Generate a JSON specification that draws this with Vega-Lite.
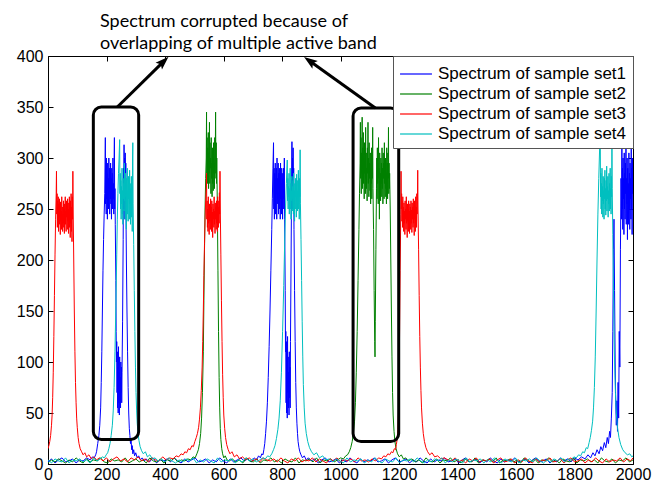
{
"$schema": "https://vega.github.io/schema/vega-lite/v6.json",
"width": 585, "height": 408,
"autosize": {"type": "none"},
"padding": {"left": 48, "top": 56, "right": 33, "bottom": 22},
"background": "white",
"title": {"text": ["Spectrum corrupted because of", "overlapping of multiple active band"], "anchor": "start", "frame": "group", "font": "Lato", "fontSize": 18, "fontWeight": "normal", "color": "black", "dx": 52, "lineHeight": 22, "offset": -5},
"config": {
  "view": {"stroke": "black", "strokeWidth": 1},
  "legend": {"orient": "top-right", "offset": 0, "title": null, "symbolType": "M-1.45,0H1.45", "symbolSize": 484, "symbolOffset": 5, "symbolStrokeWidth": 1.2, "labelFont": "Liberation Sans", "labelFontSize": 17, "labelColor": "black", "fillColor": "white", "strokeColor": "#555555", "padding": 6, "rowPadding": 0, "labelOffset": 10, "labelLimit": 400}
},
"datasets": {
"set1": [{"x":0,"y":2},{"x":12,"y":5},{"x":24,"y":1},{"x":36,"y":4},{"x":48,"y":6},{"x":60,"y":2},{"x":72,"y":3},{"x":84,"y":5},{"x":96,"y":1},{"x":108,"y":4},{"x":120,"y":3},{"x":132,"y":6},{"x":144,"y":4},{"x":152,"y":7},{"x":158,"y":6},{"x":163,"y":9},{"x":166,"y":12},{"x":170,"y":20},{"x":174,"y":28},{"x":177,"y":38},{"x":180,"y":55},{"x":182,"y":80},{"x":184,"y":110},{"x":186,"y":150},{"x":188,"y":190},{"x":190,"y":220},{"x":192,"y":245},{"x":194,"y":265},{"x":196,"y":320},{"x":197,"y":255},{"x":198,"y":290},{"x":199,"y":245},{"x":200,"y":300},{"x":201,"y":260},{"x":202,"y":285},{"x":203,"y":240},{"x":204,"y":295},{"x":205,"y":265},{"x":206,"y":280},{"x":207,"y":250},{"x":208,"y":300},{"x":209,"y":270},{"x":210,"y":290},{"x":211,"y":245},{"x":212,"y":285},{"x":213,"y":260},{"x":214,"y":295},{"x":215,"y":255},{"x":216,"y":280},{"x":217,"y":240},{"x":218,"y":290},{"x":219,"y":265},{"x":220,"y":285},{"x":221,"y":250},{"x":222,"y":300},{"x":223,"y":260},{"x":224,"y":275},{"x":225,"y":245},{"x":226,"y":295},{"x":227,"y":320},{"x":228,"y":250},{"x":229,"y":270},{"x":230,"y":235},{"x":232,"y":180},{"x":233,"y":130},{"x":234,"y":100},{"x":235,"y":120},{"x":236,"y":70},{"x":237,"y":110},{"x":238,"y":55},{"x":239,"y":95},{"x":240,"y":50},{"x":241,"y":115},{"x":242,"y":60},{"x":243,"y":90},{"x":244,"y":48},{"x":245,"y":105},{"x":246,"y":65},{"x":247,"y":85},{"x":248,"y":55},{"x":249,"y":100},{"x":250,"y":70},{"x":251,"y":95},{"x":252,"y":60},{"x":253,"y":90},{"x":255,"y":140},{"x":257,"y":220},{"x":258,"y":290},{"x":259,"y":250},{"x":260,"y":313},{"x":261,"y":270},{"x":262,"y":300},{"x":263,"y":240},{"x":264,"y":305},{"x":265,"y":260},{"x":266,"y":295},{"x":267,"y":230},{"x":268,"y":200},{"x":270,"y":150},{"x":272,"y":110},{"x":274,"y":75},{"x":276,"y":50},{"x":278,"y":35},{"x":280,"y":28},{"x":282,"y":20},{"x":284,"y":24},{"x":286,"y":14},{"x":288,"y":18},{"x":290,"y":10},{"x":293,"y":14},{"x":296,"y":8},{"x":300,"y":11},{"x":305,"y":6},{"x":310,"y":8},{"x":316,"y":4},{"x":322,"y":6},{"x":330,"y":3},{"x":335,"y":5},{"x":347,"y":2},{"x":359,"y":6},{"x":371,"y":1},{"x":383,"y":4},{"x":395,"y":3},{"x":407,"y":5},{"x":419,"y":2},{"x":431,"y":6},{"x":443,"y":3},{"x":455,"y":1},{"x":467,"y":5},{"x":479,"y":2},{"x":491,"y":4},{"x":503,"y":6},{"x":515,"y":2},{"x":527,"y":3},{"x":539,"y":5},{"x":551,"y":1},{"x":563,"y":4},{"x":575,"y":2},{"x":587,"y":6},{"x":599,"y":3},{"x":611,"y":1},{"x":623,"y":5},{"x":635,"y":2},{"x":647,"y":4},{"x":659,"y":6},{"x":671,"y":3},{"x":683,"y":5},{"x":695,"y":2},{"x":705,"y":6},{"x":713,"y":4},{"x":720,"y":8},{"x":726,"y":6},{"x":731,"y":10},{"x":735,"y":9},{"x":738,"y":14},{"x":741,"y":20},{"x":744,"y":30},{"x":747,"y":42},{"x":750,"y":60},{"x":753,"y":85},{"x":756,"y":115},{"x":759,"y":150},{"x":762,"y":190},{"x":765,"y":230},{"x":767,"y":260},{"x":769,"y":290},{"x":771,"y":315},{"x":772,"y":250},{"x":773,"y":290},{"x":774,"y":240},{"x":775,"y":285},{"x":776,"y":260},{"x":777,"y":295},{"x":778,"y":245},{"x":779,"y":280},{"x":780,"y":265},{"x":781,"y":290},{"x":782,"y":240},{"x":783,"y":300},{"x":784,"y":255},{"x":785,"y":280},{"x":786,"y":260},{"x":787,"y":295},{"x":788,"y":245},{"x":789,"y":285},{"x":790,"y":270},{"x":791,"y":290},{"x":792,"y":250},{"x":793,"y":280},{"x":794,"y":240},{"x":795,"y":295},{"x":796,"y":260},{"x":797,"y":275},{"x":798,"y":245},{"x":799,"y":290},{"x":800,"y":255},{"x":801,"y":285},{"x":802,"y":240},{"x":803,"y":280},{"x":804,"y":260},{"x":805,"y":290},{"x":806,"y":250},{"x":807,"y":275},{"x":808,"y":300},{"x":809,"y":240},{"x":811,"y":170},{"x":812,"y":110},{"x":813,"y":130},{"x":814,"y":60},{"x":815,"y":120},{"x":816,"y":50},{"x":817,"y":100},{"x":818,"y":45},{"x":819,"y":125},{"x":820,"y":70},{"x":821,"y":105},{"x":822,"y":55},{"x":823,"y":90},{"x":824,"y":48},{"x":825,"y":110},{"x":826,"y":65},{"x":827,"y":95},{"x":828,"y":55},{"x":829,"y":120},{"x":831,"y":200},{"x":833,"y":280},{"x":834,"y":316},{"x":835,"y":260},{"x":836,"y":300},{"x":837,"y":250},{"x":838,"y":310},{"x":839,"y":270},{"x":840,"y":290},{"x":841,"y":230},{"x":843,"y":170},{"x":845,"y":120},{"x":847,"y":80},{"x":849,"y":55},{"x":851,"y":40},{"x":853,"y":30},{"x":855,"y":22},{"x":858,"y":16},{"x":861,"y":12},{"x":865,"y":9},{"x":870,"y":6},{"x":876,"y":8},{"x":883,"y":4},{"x":890,"y":6},{"x":900,"y":3},{"x":912,"y":5},{"x":924,"y":1},{"x":936,"y":4},{"x":948,"y":6},{"x":960,"y":2},{"x":972,"y":3},{"x":984,"y":5},{"x":996,"y":1},{"x":1008,"y":4},{"x":1020,"y":2},{"x":1032,"y":6},{"x":1044,"y":3},{"x":1056,"y":1},{"x":1068,"y":5},{"x":1080,"y":2},{"x":1092,"y":4},{"x":1104,"y":3},{"x":1116,"y":6},{"x":1128,"y":2},{"x":1140,"y":3},{"x":1152,"y":5},{"x":1164,"y":1},{"x":1176,"y":4},{"x":1188,"y":6},{"x":1200,"y":2},{"x":1212,"y":3},{"x":1224,"y":5},{"x":1236,"y":1},{"x":1248,"y":4},{"x":1260,"y":2},{"x":1272,"y":6},{"x":1284,"y":3},{"x":1296,"y":1},{"x":1308,"y":5},{"x":1320,"y":2},{"x":1332,"y":4},{"x":1344,"y":3},{"x":1356,"y":6},{"x":1368,"y":2},{"x":1380,"y":3},{"x":1392,"y":5},{"x":1404,"y":1},{"x":1416,"y":4},{"x":1428,"y":6},{"x":1440,"y":2},{"x":1452,"y":3},{"x":1464,"y":5},{"x":1476,"y":1},{"x":1488,"y":4},{"x":1500,"y":2},{"x":1512,"y":6},{"x":1524,"y":3},{"x":1536,"y":1},{"x":1548,"y":5},{"x":1560,"y":2},{"x":1572,"y":4},{"x":1584,"y":3},{"x":1596,"y":6},{"x":1608,"y":2},{"x":1620,"y":3},{"x":1632,"y":5},{"x":1644,"y":1},{"x":1656,"y":4},{"x":1668,"y":6},{"x":1680,"y":2},{"x":1692,"y":3},{"x":1704,"y":5},{"x":1716,"y":1},{"x":1728,"y":4},{"x":1740,"y":2},{"x":1752,"y":6},{"x":1764,"y":3},{"x":1776,"y":5},{"x":1788,"y":2},{"x":1800,"y":6},{"x":1812,"y":4},{"x":1824,"y":7},{"x":1836,"y":5},{"x":1846,"y":9},{"x":1855,"y":6},{"x":1863,"y":11},{"x":1870,"y":8},{"x":1877,"y":14},{"x":1884,"y":10},{"x":1890,"y":17},{"x":1896,"y":13},{"x":1902,"y":21},{"x":1907,"y":16},{"x":1912,"y":26},{"x":1916,"y":20},{"x":1920,"y":32},{"x":1923,"y":26},{"x":1926,"y":45},{"x":1929,"y":70},{"x":1931,"y":130},{"x":1933,"y":210},{"x":1935,"y":240},{"x":1937,"y":170},{"x":1939,"y":100},{"x":1941,"y":60},{"x":1943,"y":38},{"x":1945,"y":62},{"x":1947,"y":32},{"x":1949,"y":80},{"x":1951,"y":45},{"x":1953,"y":130},{"x":1955,"y":95},{"x":1957,"y":210},{"x":1959,"y":280},{"x":1961,"y":240},{"x":1962,"y":310},{"x":1963,"y":250},{"x":1964,"y":290},{"x":1965,"y":230},{"x":1966,"y":300},{"x":1967,"y":260},{"x":1968,"y":280},{"x":1969,"y":225},{"x":1970,"y":305},{"x":1971,"y":250},{"x":1972,"y":285},{"x":1973,"y":240},{"x":1974,"y":295},{"x":1975,"y":265},{"x":1976,"y":310},{"x":1977,"y":235},{"x":1978,"y":280},{"x":1979,"y":255},{"x":1980,"y":300},{"x":1981,"y":220},{"x":1982,"y":290},{"x":1983,"y":260},{"x":1984,"y":275},{"x":1985,"y":235},{"x":1986,"y":305},{"x":1987,"y":250},{"x":1988,"y":285},{"x":1989,"y":230},{"x":1990,"y":295},{"x":1991,"y":260},{"x":1992,"y":280},{"x":1993,"y":240},{"x":1994,"y":310},{"x":1995,"y":250},{"x":1996,"y":290},{"x":1997,"y":225},{"x":1998,"y":300},{"x":1999,"y":265},{"x":2000,"y":285}],
"set2": [{"x":0,"y":1},{"x":12,"y":4},{"x":24,"y":2},{"x":36,"y":5},{"x":48,"y":3},{"x":60,"y":1},{"x":72,"y":4},{"x":84,"y":2},{"x":96,"y":6},{"x":108,"y":3},{"x":120,"y":1},{"x":132,"y":5},{"x":144,"y":2},{"x":156,"y":4},{"x":168,"y":3},{"x":180,"y":6},{"x":192,"y":2},{"x":204,"y":1},{"x":216,"y":5},{"x":228,"y":3},{"x":240,"y":4},{"x":252,"y":2},{"x":264,"y":6},{"x":276,"y":1},{"x":288,"y":3},{"x":300,"y":5},{"x":312,"y":2},{"x":324,"y":4},{"x":336,"y":1},{"x":348,"y":6},{"x":360,"y":3},{"x":372,"y":2},{"x":384,"y":5},{"x":396,"y":1},{"x":408,"y":4},{"x":420,"y":3},{"x":432,"y":6},{"x":444,"y":2},{"x":456,"y":4},{"x":468,"y":3},{"x":478,"y":5},{"x":488,"y":4},{"x":496,"y":7},{"x":503,"y":6},{"x":509,"y":10},{"x":514,"y":14},{"x":518,"y":20},{"x":522,"y":30},{"x":525,"y":45},{"x":528,"y":70},{"x":531,"y":110},{"x":533,"y":160},{"x":535,"y":210},{"x":537,"y":250},{"x":539,"y":280},{"x":541,"y":300},{"x":542,"y":345},{"x":543,"y":285},{"x":544,"y":320},{"x":545,"y":275},{"x":546,"y":310},{"x":547,"y":290},{"x":548,"y":325},{"x":549,"y":270},{"x":550,"y":305},{"x":551,"y":285},{"x":552,"y":335},{"x":553,"y":275},{"x":554,"y":315},{"x":555,"y":290},{"x":556,"y":300},{"x":557,"y":265},{"x":558,"y":320},{"x":559,"y":280},{"x":560,"y":295},{"x":561,"y":262},{"x":562,"y":310},{"x":563,"y":275},{"x":564,"y":300},{"x":565,"y":268},{"x":566,"y":315},{"x":567,"y":285},{"x":568,"y":295},{"x":569,"y":270},{"x":570,"y":320},{"x":571,"y":280},{"x":572,"y":305},{"x":573,"y":345},{"x":574,"y":285},{"x":575,"y":315},{"x":576,"y":275},{"x":577,"y":300},{"x":579,"y":250},{"x":581,"y":190},{"x":583,"y":130},{"x":585,"y":85},{"x":587,"y":55},{"x":589,"y":35},{"x":591,"y":24},{"x":594,"y":15},{"x":597,"y":10},{"x":601,"y":6},{"x":606,"y":8},{"x":612,"y":4},{"x":620,"y":3},{"x":630,"y":5},{"x":642,"y":2},{"x":654,"y":4},{"x":666,"y":1},{"x":678,"y":6},{"x":690,"y":3},{"x":702,"y":2},{"x":714,"y":5},{"x":726,"y":1},{"x":738,"y":4},{"x":750,"y":3},{"x":762,"y":6},{"x":774,"y":2},{"x":786,"y":4},{"x":798,"y":1},{"x":810,"y":5},{"x":822,"y":3},{"x":834,"y":2},{"x":846,"y":6},{"x":858,"y":1},{"x":870,"y":4},{"x":882,"y":3},{"x":894,"y":5},{"x":906,"y":2},{"x":918,"y":6},{"x":930,"y":1},{"x":942,"y":4},{"x":954,"y":3},{"x":966,"y":5},{"x":978,"y":2},{"x":990,"y":4},{"x":1000,"y":6},{"x":1010,"y":5},{"x":1018,"y":8},{"x":1024,"y":9},{"x":1030,"y":12},{"x":1035,"y":16},{"x":1040,"y":22},{"x":1044,"y":30},{"x":1048,"y":42},{"x":1051,"y":60},{"x":1054,"y":90},{"x":1057,"y":130},{"x":1060,"y":180},{"x":1063,"y":230},{"x":1065,"y":265},{"x":1067,"y":295},{"x":1068,"y":335},{"x":1069,"y":280},{"x":1070,"y":320},{"x":1071,"y":265},{"x":1072,"y":305},{"x":1073,"y":285},{"x":1074,"y":340},{"x":1075,"y":270},{"x":1076,"y":310},{"x":1077,"y":290},{"x":1078,"y":325},{"x":1079,"y":275},{"x":1080,"y":300},{"x":1081,"y":260},{"x":1082,"y":315},{"x":1083,"y":285},{"x":1084,"y":295},{"x":1085,"y":265},{"x":1086,"y":330},{"x":1087,"y":280},{"x":1088,"y":305},{"x":1089,"y":270},{"x":1090,"y":290},{"x":1091,"y":258},{"x":1092,"y":310},{"x":1093,"y":285},{"x":1094,"y":335},{"x":1095,"y":275},{"x":1096,"y":300},{"x":1097,"y":262},{"x":1098,"y":315},{"x":1099,"y":280},{"x":1100,"y":295},{"x":1101,"y":268},{"x":1102,"y":305},{"x":1103,"y":255},{"x":1104,"y":290},{"x":1105,"y":275},{"x":1106,"y":310},{"x":1107,"y":260},{"x":1108,"y":300},{"x":1109,"y":280},{"x":1110,"y":330},{"x":1111,"y":270},{"x":1113,"y":230},{"x":1115,"y":170},{"x":1117,"y":120},{"x":1118,"y":105},{"x":1119,"y":140},{"x":1121,"y":210},{"x":1123,"y":270},{"x":1124,"y":300},{"x":1125,"y":260},{"x":1126,"y":310},{"x":1127,"y":275},{"x":1128,"y":295},{"x":1129,"y":255},{"x":1130,"y":320},{"x":1131,"y":280},{"x":1132,"y":290},{"x":1133,"y":240},{"x":1134,"y":305},{"x":1135,"y":270},{"x":1136,"y":285},{"x":1137,"y":258},{"x":1138,"y":300},{"x":1139,"y":275},{"x":1140,"y":295},{"x":1141,"y":262},{"x":1142,"y":310},{"x":1143,"y":270},{"x":1144,"y":290},{"x":1145,"y":255},{"x":1146,"y":305},{"x":1147,"y":280},{"x":1148,"y":295},{"x":1149,"y":260},{"x":1150,"y":315},{"x":1151,"y":275},{"x":1152,"y":290},{"x":1153,"y":262},{"x":1154,"y":300},{"x":1155,"y":270},{"x":1156,"y":285},{"x":1157,"y":255},{"x":1158,"y":310},{"x":1159,"y":275},{"x":1160,"y":295},{"x":1161,"y":260},{"x":1162,"y":305},{"x":1163,"y":280},{"x":1164,"y":330},{"x":1165,"y":265},{"x":1166,"y":295},{"x":1167,"y":270},{"x":1168,"y":285},{"x":1170,"y":250},{"x":1172,"y":200},{"x":1174,"y":150},{"x":1176,"y":105},{"x":1178,"y":70},{"x":1180,"y":48},{"x":1183,"y":32},{"x":1186,"y":22},{"x":1190,"y":15},{"x":1195,"y":10},{"x":1201,"y":7},{"x":1208,"y":9},{"x":1215,"y":5},{"x":1223,"y":6},{"x":1232,"y":3},{"x":1244,"y":5},{"x":1256,"y":2},{"x":1268,"y":4},{"x":1280,"y":1},{"x":1292,"y":6},{"x":1304,"y":3},{"x":1316,"y":2},{"x":1328,"y":5},{"x":1340,"y":1},{"x":1352,"y":4},{"x":1364,"y":3},{"x":1376,"y":6},{"x":1388,"y":2},{"x":1400,"y":4},{"x":1412,"y":1},{"x":1424,"y":5},{"x":1436,"y":3},{"x":1448,"y":2},{"x":1460,"y":6},{"x":1472,"y":1},{"x":1484,"y":4},{"x":1496,"y":3},{"x":1508,"y":5},{"x":1520,"y":2},{"x":1532,"y":6},{"x":1544,"y":1},{"x":1556,"y":4},{"x":1568,"y":3},{"x":1580,"y":5},{"x":1592,"y":2},{"x":1604,"y":4},{"x":1616,"y":1},{"x":1628,"y":6},{"x":1640,"y":3},{"x":1652,"y":2},{"x":1664,"y":5},{"x":1676,"y":1},{"x":1688,"y":4},{"x":1700,"y":3},{"x":1712,"y":6},{"x":1724,"y":2},{"x":1736,"y":4},{"x":1748,"y":1},{"x":1760,"y":5},{"x":1772,"y":3},{"x":1784,"y":2},{"x":1796,"y":6},{"x":1808,"y":1},{"x":1820,"y":4},{"x":1832,"y":3},{"x":1844,"y":5},{"x":1856,"y":2},{"x":1868,"y":4},{"x":1880,"y":1},{"x":1892,"y":6},{"x":1904,"y":3},{"x":1916,"y":2},{"x":1928,"y":5},{"x":1940,"y":1},{"x":1952,"y":4},{"x":1964,"y":3},{"x":1976,"y":6},{"x":1988,"y":2},{"x":2000,"y":4}],
"set3": [{"x":0,"y":15},{"x":3,"y":18},{"x":6,"y":22},{"x":9,"y":28},{"x":12,"y":38},{"x":14,"y":48},{"x":16,"y":65},{"x":18,"y":90},{"x":20,"y":125},{"x":22,"y":165},{"x":24,"y":205},{"x":26,"y":240},{"x":28,"y":265},{"x":29,"y":287},{"x":30,"y":245},{"x":31,"y":265},{"x":32,"y":232},{"x":33,"y":258},{"x":34,"y":240},{"x":35,"y":262},{"x":36,"y":228},{"x":37,"y":255},{"x":38,"y":242},{"x":39,"y":260},{"x":40,"y":235},{"x":41,"y":250},{"x":42,"y":225},{"x":43,"y":257},{"x":44,"y":238},{"x":45,"y":248},{"x":46,"y":230},{"x":47,"y":262},{"x":48,"y":240},{"x":49,"y":252},{"x":50,"y":228},{"x":51,"y":245},{"x":52,"y":236},{"x":53,"y":258},{"x":54,"y":232},{"x":55,"y":250},{"x":56,"y":226},{"x":57,"y":255},{"x":58,"y":240},{"x":59,"y":262},{"x":60,"y":235},{"x":61,"y":248},{"x":62,"y":228},{"x":63,"y":258},{"x":64,"y":242},{"x":65,"y":253},{"x":66,"y":230},{"x":67,"y":260},{"x":68,"y":238},{"x":69,"y":250},{"x":70,"y":226},{"x":71,"y":256},{"x":72,"y":240},{"x":73,"y":262},{"x":74,"y":232},{"x":75,"y":250},{"x":76,"y":222},{"x":77,"y":258},{"x":78,"y":236},{"x":79,"y":265},{"x":80,"y":228},{"x":81,"y":252},{"x":82,"y":218},{"x":83,"y":262},{"x":84,"y":240},{"x":85,"y":287},{"x":86,"y":250},{"x":88,"y":200},{"x":90,"y":150},{"x":92,"y":110},{"x":94,"y":80},{"x":96,"y":60},{"x":98,"y":45},{"x":100,"y":36},{"x":103,"y":26},{"x":106,"y":20},{"x":110,"y":15},{"x":115,"y":12},{"x":120,"y":9},{"x":126,"y":11},{"x":132,"y":7},{"x":140,"y":9},{"x":148,"y":5},{"x":157,"y":7},{"x":166,"y":4},{"x":176,"y":6},{"x":188,"y":3},{"x":200,"y":6},{"x":212,"y":2},{"x":224,"y":5},{"x":236,"y":7},{"x":248,"y":3},{"x":260,"y":5},{"x":272,"y":2},{"x":284,"y":6},{"x":296,"y":4},{"x":308,"y":7},{"x":320,"y":3},{"x":332,"y":5},{"x":344,"y":2},{"x":356,"y":6},{"x":368,"y":4},{"x":380,"y":3},{"x":392,"y":7},{"x":404,"y":4},{"x":416,"y":6},{"x":428,"y":5},{"x":438,"y":8},{"x":447,"y":7},{"x":455,"y":10},{"x":462,"y":9},{"x":468,"y":12},{"x":474,"y":11},{"x":480,"y":15},{"x":486,"y":14},{"x":492,"y":18},{"x":497,"y":17},{"x":502,"y":22},{"x":507,"y":26},{"x":511,"y":30},{"x":515,"y":36},{"x":518,"y":44},{"x":521,"y":55},{"x":524,"y":72},{"x":527,"y":95},{"x":529,"y":120},{"x":531,"y":150},{"x":533,"y":185},{"x":535,"y":215},{"x":537,"y":240},{"x":539,"y":258},{"x":541,"y":270},{"x":542,"y":285},{"x":543,"y":240},{"x":544,"y":258},{"x":545,"y":232},{"x":546,"y":250},{"x":547,"y":228},{"x":548,"y":262},{"x":549,"y":236},{"x":550,"y":248},{"x":551,"y":225},{"x":552,"y":255},{"x":553,"y":238},{"x":554,"y":250},{"x":555,"y":230},{"x":556,"y":260},{"x":557,"y":242},{"x":558,"y":252},{"x":559,"y":228},{"x":560,"y":258},{"x":561,"y":236},{"x":562,"y":247},{"x":563,"y":222},{"x":564,"y":255},{"x":565,"y":240},{"x":566,"y":250},{"x":567,"y":232},{"x":568,"y":262},{"x":569,"y":235},{"x":570,"y":248},{"x":571,"y":226},{"x":572,"y":256},{"x":573,"y":240},{"x":574,"y":252},{"x":575,"y":230},{"x":576,"y":258},{"x":577,"y":236},{"x":578,"y":250},{"x":579,"y":228},{"x":580,"y":262},{"x":581,"y":240},{"x":582,"y":252},{"x":583,"y":232},{"x":584,"y":258},{"x":585,"y":236},{"x":586,"y":266},{"x":587,"y":245},{"x":588,"y":287},{"x":589,"y":250},{"x":591,"y":205},{"x":593,"y":160},{"x":595,"y":120},{"x":597,"y":88},{"x":599,"y":65},{"x":601,"y":48},{"x":604,"y":35},{"x":607,"y":26},{"x":611,"y":19},{"x":616,"y":14},{"x":622,"y":10},{"x":629,"y":12},{"x":637,"y":7},{"x":646,"y":9},{"x":655,"y":5},{"x":665,"y":7},{"x":676,"y":4},{"x":688,"y":6},{"x":700,"y":3},{"x":712,"y":5},{"x":724,"y":2},{"x":736,"y":6},{"x":748,"y":4},{"x":760,"y":3},{"x":772,"y":5},{"x":784,"y":2},{"x":796,"y":6},{"x":808,"y":3},{"x":820,"y":1},{"x":832,"y":5},{"x":844,"y":3},{"x":856,"y":6},{"x":868,"y":2},{"x":880,"y":4},{"x":892,"y":3},{"x":904,"y":6},{"x":916,"y":2},{"x":928,"y":5},{"x":940,"y":3},{"x":952,"y":1},{"x":964,"y":5},{"x":976,"y":3},{"x":988,"y":6},{"x":1000,"y":2},{"x":1012,"y":4},{"x":1024,"y":3},{"x":1036,"y":5},{"x":1048,"y":2},{"x":1060,"y":6},{"x":1072,"y":3},{"x":1084,"y":4},{"x":1096,"y":2},{"x":1108,"y":5},{"x":1120,"y":3},{"x":1130,"y":6},{"x":1140,"y":5},{"x":1148,"y":8},{"x":1155,"y":7},{"x":1162,"y":10},{"x":1168,"y":9},{"x":1174,"y":12},{"x":1179,"y":11},{"x":1184,"y":15},{"x":1188,"y":14},{"x":1191,"y":19},{"x":1194,"y":25},{"x":1196,"y":34},{"x":1198,"y":50},{"x":1200,"y":80},{"x":1202,"y":130},{"x":1204,"y":190},{"x":1206,"y":245},{"x":1207,"y":287},{"x":1208,"y":250},{"x":1209,"y":265},{"x":1210,"y":238},{"x":1211,"y":258},{"x":1212,"y":232},{"x":1213,"y":262},{"x":1214,"y":240},{"x":1215,"y":252},{"x":1216,"y":228},{"x":1217,"y":256},{"x":1218,"y":236},{"x":1219,"y":248},{"x":1220,"y":225},{"x":1221,"y":258},{"x":1222,"y":240},{"x":1223,"y":250},{"x":1224,"y":230},{"x":1225,"y":262},{"x":1226,"y":236},{"x":1227,"y":246},{"x":1228,"y":222},{"x":1229,"y":255},{"x":1230,"y":238},{"x":1231,"y":250},{"x":1232,"y":228},{"x":1233,"y":258},{"x":1234,"y":235},{"x":1235,"y":248},{"x":1236,"y":226},{"x":1237,"y":255},{"x":1238,"y":242},{"x":1239,"y":252},{"x":1240,"y":230},{"x":1241,"y":258},{"x":1242,"y":236},{"x":1243,"y":249},{"x":1244,"y":227},{"x":1245,"y":256},{"x":1246,"y":240},{"x":1247,"y":252},{"x":1248,"y":232},{"x":1249,"y":260},{"x":1250,"y":236},{"x":1251,"y":248},{"x":1252,"y":224},{"x":1253,"y":258},{"x":1254,"y":240},{"x":1255,"y":250},{"x":1256,"y":228},{"x":1257,"y":262},{"x":1258,"y":238},{"x":1259,"y":252},{"x":1260,"y":232},{"x":1261,"y":265},{"x":1262,"y":245},{"x":1263,"y":258},{"x":1264,"y":288},{"x":1265,"y":250},{"x":1267,"y":210},{"x":1269,"y":165},{"x":1271,"y":125},{"x":1273,"y":95},{"x":1275,"y":72},{"x":1277,"y":55},{"x":1280,"y":40},{"x":1283,"y":30},{"x":1287,"y":22},{"x":1292,"y":16},{"x":1298,"y":12},{"x":1305,"y":9},{"x":1313,"y":11},{"x":1322,"y":7},{"x":1332,"y":8},{"x":1343,"y":5},{"x":1355,"y":6},{"x":1368,"y":4},{"x":1380,"y":3},{"x":1392,"y":6},{"x":1404,"y":2},{"x":1416,"y":4},{"x":1428,"y":1},{"x":1440,"y":5},{"x":1452,"y":3},{"x":1464,"y":6},{"x":1476,"y":2},{"x":1488,"y":4},{"x":1500,"y":3},{"x":1512,"y":5},{"x":1524,"y":1},{"x":1536,"y":4},{"x":1548,"y":6},{"x":1560,"y":2},{"x":1572,"y":3},{"x":1584,"y":5},{"x":1596,"y":1},{"x":1608,"y":4},{"x":1620,"y":2},{"x":1632,"y":6},{"x":1644,"y":3},{"x":1656,"y":1},{"x":1668,"y":5},{"x":1680,"y":2},{"x":1692,"y":4},{"x":1704,"y":3},{"x":1716,"y":6},{"x":1728,"y":2},{"x":1740,"y":3},{"x":1752,"y":5},{"x":1764,"y":1},{"x":1776,"y":4},{"x":1788,"y":6},{"x":1800,"y":2},{"x":1812,"y":3},{"x":1824,"y":5},{"x":1836,"y":1},{"x":1848,"y":4},{"x":1860,"y":2},{"x":1872,"y":6},{"x":1884,"y":3},{"x":1896,"y":1},{"x":1908,"y":5},{"x":1920,"y":2},{"x":1932,"y":4},{"x":1944,"y":3},{"x":1956,"y":6},{"x":1968,"y":2},{"x":1980,"y":5},{"x":1992,"y":3},{"x":2000,"y":6}],
"set4": [{"x":0,"y":4},{"x":12,"y":1},{"x":24,"y":5},{"x":36,"y":3},{"x":48,"y":2},{"x":60,"y":6},{"x":72,"y":1},{"x":84,"y":4},{"x":96,"y":3},{"x":108,"y":5},{"x":120,"y":2},{"x":132,"y":4},{"x":144,"y":1},{"x":156,"y":6},{"x":168,"y":3},{"x":178,"y":5},{"x":186,"y":7},{"x":193,"y":6},{"x":199,"y":9},{"x":204,"y":11},{"x":208,"y":15},{"x":212,"y":20},{"x":216,"y":28},{"x":220,"y":38},{"x":223,"y":52},{"x":226,"y":75},{"x":229,"y":110},{"x":232,"y":155},{"x":235,"y":205},{"x":237,"y":240},{"x":239,"y":265},{"x":241,"y":285},{"x":243,"y":300},{"x":245,"y":318},{"x":246,"y":265},{"x":247,"y":285},{"x":248,"y":250},{"x":249,"y":278},{"x":250,"y":240},{"x":251,"y":272},{"x":252,"y":255},{"x":253,"y":290},{"x":254,"y":245},{"x":255,"y":268},{"x":256,"y":235},{"x":257,"y":280},{"x":258,"y":260},{"x":259,"y":275},{"x":260,"y":248},{"x":261,"y":295},{"x":262,"y":258},{"x":263,"y":270},{"x":264,"y":240},{"x":265,"y":285},{"x":266,"y":262},{"x":267,"y":275},{"x":268,"y":230},{"x":269,"y":280},{"x":270,"y":255},{"x":271,"y":290},{"x":272,"y":245},{"x":273,"y":268},{"x":274,"y":238},{"x":275,"y":282},{"x":276,"y":260},{"x":277,"y":272},{"x":278,"y":240},{"x":279,"y":288},{"x":280,"y":255},{"x":281,"y":275},{"x":282,"y":235},{"x":283,"y":270},{"x":284,"y":250},{"x":285,"y":282},{"x":286,"y":242},{"x":287,"y":272},{"x":288,"y":228},{"x":289,"y":300},{"x":290,"y":315},{"x":291,"y":255},{"x":293,"y":215},{"x":295,"y":170},{"x":297,"y":130},{"x":299,"y":95},{"x":301,"y":70},{"x":303,"y":52},{"x":305,"y":40},{"x":308,"y":30},{"x":311,"y":23},{"x":315,"y":17},{"x":320,"y":13},{"x":326,"y":10},{"x":333,"y":12},{"x":340,"y":7},{"x":348,"y":9},{"x":357,"y":5},{"x":366,"y":6},{"x":376,"y":3},{"x":388,"y":5},{"x":400,"y":2},{"x":412,"y":6},{"x":424,"y":3},{"x":436,"y":1},{"x":448,"y":4},{"x":460,"y":2},{"x":472,"y":5},{"x":484,"y":3},{"x":496,"y":6},{"x":508,"y":1},{"x":520,"y":4},{"x":532,"y":2},{"x":544,"y":5},{"x":556,"y":3},{"x":568,"y":1},{"x":580,"y":6},{"x":592,"y":2},{"x":604,"y":4},{"x":616,"y":3},{"x":628,"y":5},{"x":640,"y":1},{"x":652,"y":4},{"x":664,"y":2},{"x":676,"y":6},{"x":688,"y":3},{"x":700,"y":5},{"x":712,"y":2},{"x":724,"y":4},{"x":734,"y":6},{"x":743,"y":5},{"x":751,"y":8},{"x":758,"y":7},{"x":765,"y":10},{"x":771,"y":14},{"x":776,"y":18},{"x":781,"y":25},{"x":786,"y":34},{"x":790,"y":45},{"x":794,"y":62},{"x":798,"y":90},{"x":802,"y":130},{"x":806,"y":175},{"x":809,"y":215},{"x":812,"y":250},{"x":815,"y":275},{"x":818,"y":298},{"x":819,"y":258},{"x":820,"y":280},{"x":821,"y":250},{"x":822,"y":272},{"x":823,"y":262},{"x":824,"y":285},{"x":825,"y":245},{"x":826,"y":270},{"x":827,"y":255},{"x":828,"y":290},{"x":829,"y":250},{"x":830,"y":275},{"x":831,"y":240},{"x":832,"y":268},{"x":833,"y":258},{"x":834,"y":282},{"x":835,"y":248},{"x":836,"y":272},{"x":837,"y":260},{"x":838,"y":278},{"x":839,"y":245},{"x":840,"y":285},{"x":841,"y":255},{"x":842,"y":268},{"x":843,"y":238},{"x":844,"y":275},{"x":845,"y":262},{"x":846,"y":280},{"x":847,"y":250},{"x":848,"y":270},{"x":849,"y":242},{"x":850,"y":284},{"x":851,"y":258},{"x":852,"y":268},{"x":853,"y":248},{"x":854,"y":278},{"x":855,"y":262},{"x":856,"y":288},{"x":857,"y":250},{"x":858,"y":272},{"x":859,"y":240},{"x":860,"y":280},{"x":861,"y":262},{"x":862,"y":308},{"x":863,"y":255},{"x":865,"y":220},{"x":867,"y":180},{"x":869,"y":140},{"x":871,"y":105},{"x":873,"y":78},{"x":876,"y":55},{"x":879,"y":40},{"x":883,"y":30},{"x":888,"y":22},{"x":894,"y":16},{"x":901,"y":12},{"x":909,"y":9},{"x":918,"y":11},{"x":928,"y":6},{"x":939,"y":8},{"x":950,"y":4},{"x":962,"y":5},{"x":974,"y":2},{"x":986,"y":5},{"x":998,"y":3},{"x":1010,"y":1},{"x":1022,"y":6},{"x":1034,"y":2},{"x":1046,"y":4},{"x":1058,"y":3},{"x":1070,"y":5},{"x":1082,"y":1},{"x":1094,"y":4},{"x":1106,"y":2},{"x":1118,"y":6},{"x":1130,"y":3},{"x":1142,"y":1},{"x":1154,"y":5},{"x":1166,"y":3},{"x":1178,"y":2},{"x":1190,"y":6},{"x":1202,"y":1},{"x":1214,"y":4},{"x":1226,"y":3},{"x":1238,"y":5},{"x":1250,"y":2},{"x":1262,"y":6},{"x":1274,"y":3},{"x":1286,"y":1},{"x":1298,"y":4},{"x":1310,"y":2},{"x":1322,"y":5},{"x":1334,"y":3},{"x":1346,"y":6},{"x":1358,"y":1},{"x":1370,"y":4},{"x":1382,"y":2},{"x":1394,"y":5},{"x":1406,"y":3},{"x":1418,"y":1},{"x":1430,"y":6},{"x":1442,"y":2},{"x":1454,"y":4},{"x":1466,"y":3},{"x":1478,"y":5},{"x":1490,"y":1},{"x":1502,"y":4},{"x":1514,"y":2},{"x":1526,"y":6},{"x":1538,"y":3},{"x":1550,"y":1},{"x":1562,"y":5},{"x":1574,"y":3},{"x":1586,"y":2},{"x":1598,"y":6},{"x":1610,"y":1},{"x":1622,"y":4},{"x":1634,"y":3},{"x":1646,"y":5},{"x":1658,"y":2},{"x":1670,"y":6},{"x":1682,"y":3},{"x":1694,"y":1},{"x":1706,"y":4},{"x":1718,"y":2},{"x":1730,"y":5},{"x":1742,"y":3},{"x":1754,"y":6},{"x":1766,"y":2},{"x":1778,"y":5},{"x":1788,"y":4},{"x":1798,"y":7},{"x":1806,"y":6},{"x":1814,"y":9},{"x":1821,"y":8},{"x":1828,"y":12},{"x":1834,"y":11},{"x":1840,"y":16},{"x":1845,"y":15},{"x":1850,"y":21},{"x":1854,"y":26},{"x":1858,"y":33},{"x":1862,"y":42},{"x":1865,"y":55},{"x":1868,"y":75},{"x":1871,"y":105},{"x":1874,"y":150},{"x":1877,"y":200},{"x":1880,"y":245},{"x":1883,"y":280},{"x":1886,"y":310},{"x":1888,"y":330},{"x":1889,"y":262},{"x":1890,"y":285},{"x":1891,"y":250},{"x":1892,"y":275},{"x":1893,"y":245},{"x":1894,"y":290},{"x":1895,"y":258},{"x":1896,"y":272},{"x":1897,"y":242},{"x":1898,"y":282},{"x":1899,"y":255},{"x":1900,"y":268},{"x":1901,"y":240},{"x":1902,"y":280},{"x":1903,"y":260},{"x":1904,"y":288},{"x":1905,"y":250},{"x":1906,"y":270},{"x":1907,"y":244},{"x":1908,"y":278},{"x":1909,"y":258},{"x":1910,"y":292},{"x":1911,"y":248},{"x":1912,"y":272},{"x":1913,"y":260},{"x":1914,"y":282},{"x":1915,"y":242},{"x":1916,"y":268},{"x":1917,"y":255},{"x":1918,"y":285},{"x":1919,"y":248},{"x":1920,"y":275},{"x":1921,"y":262},{"x":1922,"y":290},{"x":1923,"y":250},{"x":1924,"y":270},{"x":1925,"y":245},{"x":1926,"y":282},{"x":1927,"y":262},{"x":1928,"y":320},{"x":1929,"y":270},{"x":1931,"y":225},{"x":1933,"y":180},{"x":1935,"y":135},{"x":1937,"y":100},{"x":1940,"y":70},{"x":1943,"y":50},{"x":1947,"y":36},{"x":1952,"y":26},{"x":1958,"y":19},{"x":1965,"y":14},{"x":1973,"y":11},{"x":1981,"y":9},{"x":1989,"y":10},{"x":1996,"y":7},{"x":2000,"y":8}],
"boxes": [{"x":155,"x2":310,"y":350,"y2":24},{"x":1043,"x2":1199,"y":349,"y2":22}],
"arrows": [{"x":237,"y":350,"x2":393,"y2":394,"angle":46},{"x":1119,"y":349,"x2":897,"y2":394.6,"angle":305.5}]
},
"layer": [
  {"data": {"name": "set1"}, "mark": {"type": "line", "strokeWidth": 1, "clip": true},
   "encoding": {
     "x": {"field": "x", "type": "quantitative", "scale": {"domain": [0, 2000], "nice": false}, "axis": {"orient": "bottom", "title": null, "format": "d", "values": [0,200,400,600,800,1000,1200,1400,1600,1800,2000], "grid": false, "domain": false, "tickSize": -5, "tickColor": "black", "labelColor": "black", "labelFont": "Liberation Sans", "labelFontSize": 16, "labelPadding": 7, "labelFlush": false, "labelOverlap": false}},
     "y": {"field": "y", "type": "quantitative", "scale": {"domain": [0, 400], "nice": false}, "axis": {"orient": "left", "title": null, "values": [0,50,100,150,200,250,300,350,400], "grid": false, "domain": false, "tickSize": -5, "tickColor": "black", "labelColor": "black", "labelFont": "Liberation Sans", "labelFontSize": 16, "labelPadding": 10, "labelFlush": false, "labelOverlap": false}},
     "color": {"datum": "Spectrum of sample set1", "type": "nominal", "scale": {"domain": ["Spectrum of sample set1", "Spectrum of sample set2", "Spectrum of sample set3", "Spectrum of sample set4"], "range": ["#0000ff", "#008000", "#ff0000", "#00bfbf"]}}
   }},
  {"data": {"name": "set2"}, "mark": {"type": "line", "strokeWidth": 1, "clip": true},
   "encoding": {"x": {"field": "x", "type": "quantitative", "axis": null}, "y": {"field": "y", "type": "quantitative", "axis": null}, "color": {"datum": "Spectrum of sample set2", "type": "nominal"}}},
  {"data": {"name": "set3"}, "mark": {"type": "line", "strokeWidth": 1, "clip": true},
   "encoding": {"x": {"field": "x", "type": "quantitative", "axis": null}, "y": {"field": "y", "type": "quantitative", "axis": null}, "color": {"datum": "Spectrum of sample set3", "type": "nominal"}}},
  {"data": {"name": "set4"}, "mark": {"type": "line", "strokeWidth": 1, "clip": true},
   "encoding": {"x": {"field": "x", "type": "quantitative", "axis": null}, "y": {"field": "y", "type": "quantitative", "axis": null}, "color": {"datum": "Spectrum of sample set4", "type": "nominal"}}},
  {"data": {"name": "boxes"}, "mark": {"type": "rect", "filled": false, "stroke": "black", "strokeWidth": 3, "cornerRadius": 8},
   "encoding": {
     "x": {"field": "x", "type": "quantitative", "axis": {"orient": "top", "labels": false, "title": null, "values": [0,200,400,600,800,1000,1200,1400,1600,1800,2000], "grid": false, "domain": false, "tickSize": -5, "tickColor": "black"}},
     "x2": {"field": "x2"},
     "y": {"field": "y", "type": "quantitative", "axis": {"orient": "right", "labels": false, "title": null, "values": [0,50,100,150,200,250,300,350,400], "grid": false, "domain": false, "tickSize": -5, "tickColor": "black"}},
     "y2": {"field": "y2"}
   }},
  {"data": {"name": "arrows"}, "mark": {"type": "rule", "stroke": "black", "strokeWidth": 3},
   "encoding": {"x": {"field": "x", "type": "quantitative", "axis": null}, "x2": {"field": "x2"}, "y": {"field": "y", "type": "quantitative", "axis": null}, "y2": {"field": "y2"}}},
  {"data": {"name": "arrows"}, "mark": {"type": "point", "shape": "M0,-1L0.6,0.75L0,0.4L-0.6,0.75Z", "filled": true, "color": "black", "size": 240, "opacity": 1},
   "encoding": {"x": {"field": "x2", "type": "quantitative", "axis": null}, "y": {"field": "y2", "type": "quantitative", "axis": null}, "angle": {"field": "angle", "type": "quantitative", "scale": null}}}
],
"resolve": {"axis": {"x": "independent", "y": "independent"}}
}
